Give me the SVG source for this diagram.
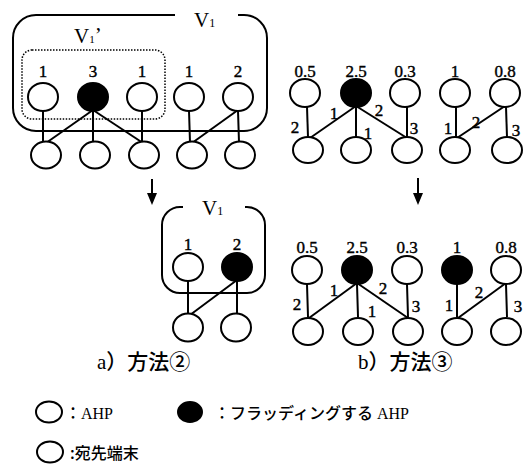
<svg xmlns="http://www.w3.org/2000/svg" width="526" height="465" viewBox="0 0 526 465">
  <style>
    .ahp { fill: #fff; stroke: #000; stroke-width: 2; }
    .flood { fill: #000; stroke: #000; stroke-width: 2; }
    .term { fill: #fff; stroke: #000; stroke-width: 2; }
    .edge { stroke: #000; stroke-width: 2; fill: none; }
    .frame { stroke: #000; stroke-width: 2; fill: none; }
    .sub { stroke: #000; stroke-width: 1.5; fill: none; stroke-dasharray: 1.5 1.5; }
    .num { font-family: "Liberation Serif", "Times New Roman", serif; font-size: 17px; text-anchor: middle; stroke: #000; stroke-width: 0.4; }
    .elab { font-family: "Liberation Serif", "Times New Roman", serif; font-size: 17px; text-anchor: middle; stroke: #000; stroke-width: 0.4; }
    .set { font-family: "Liberation Serif", "Times New Roman", serif; font-size: 21px; }
    .cap { font-family: "Liberation Serif", "Noto Sans CJK JP", serif; font-size: 21px; font-weight: 500; }
    .leg { font-family: "Liberation Serif", "Noto Sans CJK JP", sans-serif; font-size: 16px; font-weight: 500; }
    .legj { font-family: "Noto Sans CJK JP", sans-serif; font-size: 16px; font-weight: 500; }
    .head { fill: #000; }
  </style>

  <!-- ===== a) method 2, before ===== -->
  <g id="a-set-V1">
    <path class="frame" d="M175,15 H36 A23,23 0 0 0 13,38 V108 A23,23 0 0 0 36,131 H244 A23,23 0 0 0 267,108 V38 A23,23 0 0 0 244,15 H238"/>
    <text class="set" x="194" y="27">V<tspan font-size="12">1</tspan></text>
  </g>
  <g id="a-set-V1p">
    <rect class="sub" x="22" y="50" width="143" height="69" rx="10"/>
    <text class="set" x="74" y="43" font-size="18">V<tspan font-size="11">1</tspan><tspan dy="-1">’</tspan></text>
  </g>

  <g id="a-edges">
    <line class="edge" x1="43" y1="111" x2="43" y2="142"/>
    <line class="edge" x1="93" y1="110" x2="46" y2="143"/>
    <line class="edge" x1="93" y1="110" x2="93" y2="142"/>
    <line class="edge" x1="93" y1="110" x2="143" y2="143"/>
    <line class="edge" x1="142" y1="111" x2="142" y2="142"/>
    <line class="edge" x1="189" y1="111" x2="190" y2="142"/>
    <line class="edge" x1="238" y1="110" x2="192" y2="143"/>
    <line class="edge" x1="238" y1="111" x2="239" y2="142"/>
  </g>

  <g id="a-n1"><ellipse class="ahp" cx="43" cy="97" rx="15" ry="14"/><text class="num" x="43" y="77">1</text></g>
  <g id="a-n2"><ellipse class="flood" cx="93" cy="97" rx="15" ry="14"/><text class="num" x="93" y="77">3</text></g>
  <g id="a-n3"><ellipse class="ahp" cx="142" cy="97" rx="15" ry="14"/><text class="num" x="142" y="77">1</text></g>
  <g id="a-n4"><ellipse class="ahp" cx="189" cy="97" rx="15" ry="14"/><text class="num" x="189" y="77">1</text></g>
  <g id="a-n5"><ellipse class="ahp" cx="238" cy="97" rx="15" ry="14"/><text class="num" x="238" y="77">2</text></g>

  <g id="a-t1"><ellipse class="term" cx="46" cy="155" rx="15" ry="13.5"/></g>
  <g id="a-t2"><ellipse class="term" cx="95" cy="155" rx="15" ry="13.5"/></g>
  <g id="a-t3"><ellipse class="term" cx="144" cy="155" rx="15" ry="13.5"/></g>
  <g id="a-t4"><ellipse class="term" cx="192" cy="155" rx="15" ry="13.5"/></g>
  <g id="a-t5"><ellipse class="term" cx="240" cy="155" rx="15" ry="13.5"/></g>

  <g id="arrows">
    <line class="edge" x1="152" y1="179" x2="152" y2="194"/>
    <polygon class="head" points="147,193 157,193 152,205"/>
    <line class="edge" x1="418" y1="178" x2="418" y2="194"/>
    <polygon class="head" points="413,193 423,193 418,205"/>
  </g>

  <!-- ===== a) method 2, after ===== -->
  <g id="a2-set-V1">
    <path class="frame" d="M183,207 H180 A18,18 0 0 0 162,225 V275 A18,18 0 0 0 180,293 H247 A18,18 0 0 0 265,275 V225 A18,18 0 0 0 247,207 H245"/>
    <text class="set" x="202" y="215">V<tspan font-size="12">1</tspan></text>
  </g>
  <g id="a2-edges">
    <line class="edge" x1="188" y1="281" x2="188" y2="314"/>
    <line class="edge" x1="237" y1="280" x2="190" y2="315"/>
    <line class="edge" x1="237" y1="281" x2="237" y2="314"/>
  </g>
  <g id="a2-n1"><ellipse class="ahp" cx="188" cy="267" rx="15" ry="14"/><text class="num" x="188" y="250">1</text></g>
  <g id="a2-n2"><ellipse class="flood" cx="237" cy="267" rx="15" ry="14"/><text class="num" x="237" y="250">2</text></g>
  <g id="a2-t1"><ellipse class="term" cx="188" cy="327.5" rx="15" ry="14"/></g>
  <g id="a2-t2"><ellipse class="term" cx="236" cy="327.5" rx="15" ry="14"/></g>

  <!-- ===== b) method 3, before ===== -->
  <g id="b-edges">
    <line class="edge" x1="307" y1="107" x2="308" y2="137"/>
    <line class="edge" x1="356" y1="106" x2="310" y2="138"/>
    <line class="edge" x1="356" y1="107" x2="356" y2="137"/>
    <line class="edge" x1="356" y1="106" x2="407" y2="138"/>
    <line class="edge" x1="407" y1="107" x2="407" y2="137"/>
    <line class="edge" x1="456" y1="107" x2="456" y2="137"/>
    <line class="edge" x1="505" y1="106" x2="457" y2="138"/>
    <line class="edge" x1="506" y1="107" x2="507" y2="137"/>
  </g>
  <g id="b-edge-labels">
    <text class="elab" x="295" y="133">2</text>
    <text class="elab" x="334" y="119">1</text>
    <text class="elab" x="368" y="139">1</text>
    <text class="elab" x="379" y="116">2</text>
    <text class="elab" x="414" y="134">3</text>
    <text class="elab" x="448" y="134">1</text>
    <text class="elab" x="476" y="128">2</text>
    <text class="elab" x="516" y="136">3</text>
  </g>
  <g id="b-n1"><ellipse class="ahp" cx="305" cy="93" rx="15" ry="14"/><text class="num" x="305" y="77">0.5</text></g>
  <g id="b-n2"><ellipse class="flood" cx="356" cy="93" rx="15" ry="14"/><text class="num" x="356" y="77">2.5</text></g>
  <g id="b-n3"><ellipse class="ahp" cx="405" cy="93" rx="15" ry="14"/><text class="num" x="405" y="77">0.3</text></g>
  <g id="b-n4"><ellipse class="ahp" cx="455" cy="93" rx="15" ry="14"/><text class="num" x="455" y="77">1</text></g>
  <g id="b-n5"><ellipse class="ahp" cx="505" cy="93" rx="15" ry="14"/><text class="num" x="505" y="77">0.8</text></g>
  <g id="b-t1"><ellipse class="term" cx="308" cy="150" rx="15" ry="13"/></g>
  <g id="b-t2"><ellipse class="term" cx="356" cy="150" rx="15" ry="13"/></g>
  <g id="b-t3"><ellipse class="term" cx="407" cy="150" rx="15" ry="13"/></g>
  <g id="b-t4"><ellipse class="term" cx="455" cy="150" rx="15" ry="13"/></g>
  <g id="b-t5"><ellipse class="term" cx="507" cy="150" rx="15" ry="13"/></g>

  <!-- ===== b) method 3, after ===== -->
  <g id="b2-edges">
    <line class="edge" x1="307" y1="284" x2="308" y2="317"/>
    <line class="edge" x1="357" y1="283" x2="309" y2="318"/>
    <line class="edge" x1="357" y1="284" x2="358" y2="317"/>
    <line class="edge" x1="357" y1="283" x2="408" y2="318"/>
    <line class="edge" x1="407" y1="284" x2="408" y2="317"/>
    <line class="edge" x1="457" y1="284" x2="457" y2="317"/>
    <line class="edge" x1="506" y1="283" x2="458" y2="318"/>
    <line class="edge" x1="506" y1="284" x2="507" y2="317"/>
  </g>
  <g id="b2-edge-labels">
    <text class="elab" x="297" y="310">2</text>
    <text class="elab" x="334" y="296">1</text>
    <text class="elab" x="372" y="317">1</text>
    <text class="elab" x="383" y="294">2</text>
    <text class="elab" x="416" y="312">3</text>
    <text class="elab" x="449" y="311">1</text>
    <text class="elab" x="479" y="298">2</text>
    <text class="elab" x="518" y="312">3</text>
  </g>
  <g id="b2-n1"><ellipse class="ahp" cx="307" cy="270" rx="15" ry="14"/><text class="num" x="307" y="253">0.5</text></g>
  <g id="b2-n2"><ellipse class="flood" cx="357" cy="270" rx="15" ry="14"/><text class="num" x="357" y="253">2.5</text></g>
  <g id="b2-n3"><ellipse class="ahp" cx="407" cy="270" rx="15" ry="14"/><text class="num" x="407" y="253">0.3</text></g>
  <g id="b2-n4"><ellipse class="flood" cx="457" cy="270" rx="15" ry="14"/><text class="num" x="457" y="253">1</text></g>
  <g id="b2-n5"><ellipse class="ahp" cx="506" cy="270" rx="15" ry="14"/><text class="num" x="506" y="253">0.8</text></g>
  <g id="b2-t1"><ellipse class="term" cx="308" cy="331.5" rx="15" ry="13.5"/></g>
  <g id="b2-t2"><ellipse class="term" cx="358" cy="331.5" rx="15" ry="13.5"/></g>
  <g id="b2-t3"><ellipse class="term" cx="408" cy="331.5" rx="15" ry="13.5"/></g>
  <g id="b2-t4"><ellipse class="term" cx="457" cy="331.5" rx="15" ry="13.5"/></g>
  <g id="b2-t5"><ellipse class="term" cx="506" cy="331.5" rx="15" ry="13.5"/></g>

  <!-- captions -->
  <g id="captions">
    <text class="cap" x="97" y="369">a）方法②</text>
    <text class="cap" x="358" y="369">b）方法③</text>
  </g>

  <!-- legend -->
  <g id="legend">
    <ellipse class="ahp" cx="49" cy="412" rx="13" ry="10.5"/>
    <text class="leg" x="65" y="419">：AHP</text>
    <ellipse class="flood" cx="190" cy="412" rx="12" ry="10"/>
    <text class="leg" x="214" y="419">：フラッディングする AHP</text>
    <ellipse class="term" cx="50" cy="452" rx="13" ry="10.5"/>
    <text class="legj" x="70" y="459">:宛先端末</text>
  </g>
</svg>
